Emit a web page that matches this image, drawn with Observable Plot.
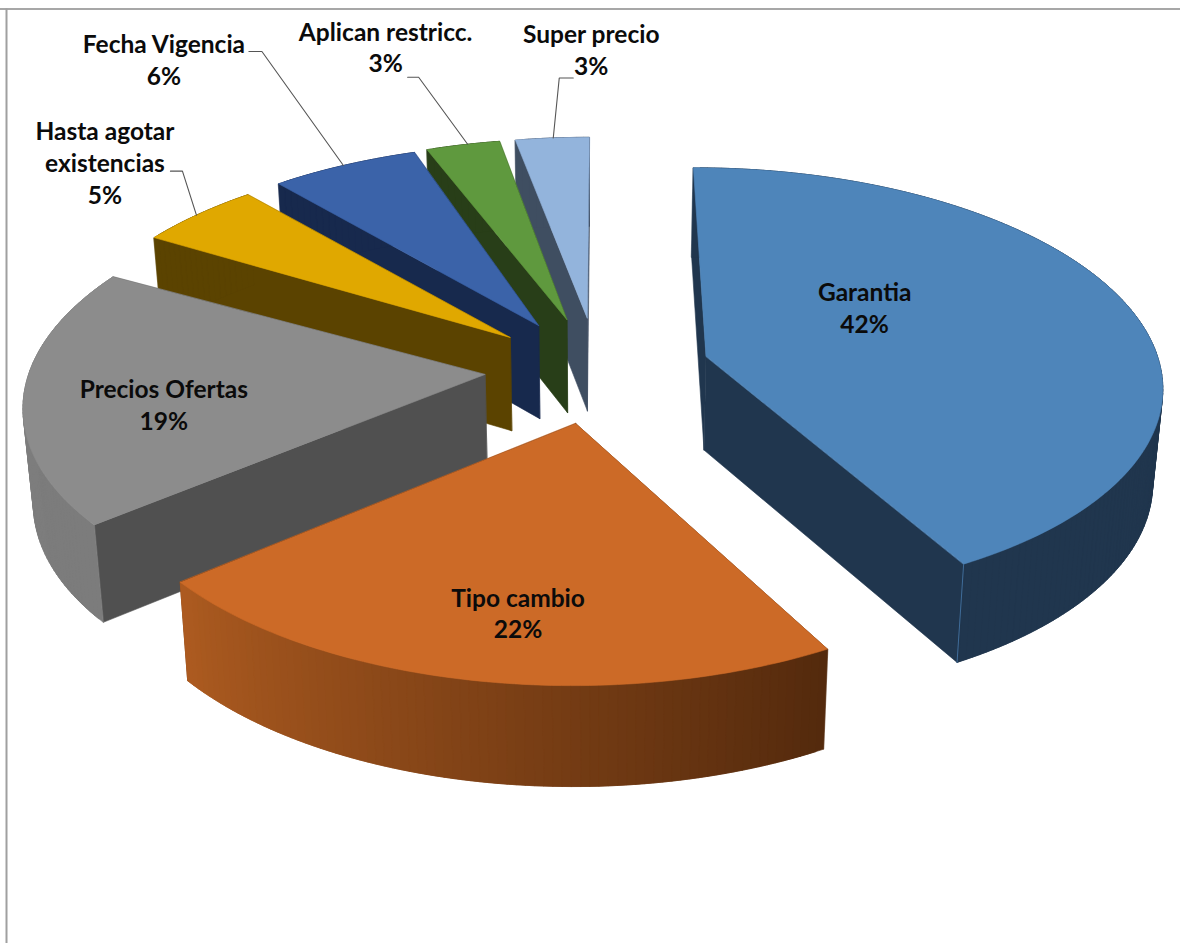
<!DOCTYPE html>
<html lang="es">
<head>
<meta charset="utf-8">
<title>Restricciones en ofertas</title>
<script src="https://cdn.jsdelivr.net/npm/d3@7"></script>
<script src="https://cdn.jsdelivr.net/npm/@observablehq/plot@0.6"></script>
<style>
  html, body { margin: 0; padding: 0; background: #fff; }
  svg { display: block; }
</style>
</head>
<body>
<div id="chart"></div>
<script>
// Shares of each concept, clockwise from twelve o'clock
const names = ["Garantia", "Tipo cambio", "Precios Ofertas", "Hasta agotar\nexistencias", "Fecha Vigencia", "Aplican restricc.", "Super precio"];
const shares = [42, 22, 19, 5, 6, 3, 3];

// Slice colours: top face, cut faces, and the outer wall from its first to its last angle
const topColors = ["#4e85ba", "#cc6a27", "#8c8c8c", "#e0a800", "#3b63a9", "#5f993e", "#93b4dc"];
const sideColors = ["#20364e", "#542b0e", "#505050", "#5b4300", "#17294d", "#283e18", "#3f4e61"];
const wallFrom = ["#20364e", "#542a0d", "#7c7c7c", "#5b4300", "#17294d", "#283e18", "#3f4e61"];
const wallTo = ["#20364e", "#ad5b20", "#7e7e7e", "#5b4300", "#17294d", "#283e18", "#3f4e61"];

// Back to front, so nearer slices cover farther ones
const paintOrder = [6, 5, 4, 3, 2, 0, 1];

// Tilted, perspective view of the pie plane
const center = {x: 597, y: 369};
const view = {scaleX: 455, scaleY: 215, depth: 0.124, explode: 0.248, thickness: 94, lowerShrink: 0.982, lowerStretch: 0.022};
// Small rotation of each exploded slice around its own apex, in degrees
const sliceTurn = [-0.1, 0, -0.2, 2, 2.5, 0.5, 0.15];

function project(u, v) {
  const s = 1 / (1 + view.depth * v);
  return {x: center.x + view.scaleX * u * s, y: center.y - view.scaleY * v * s};
}
const lower = (p) => ({
  x: center.x + (p.x - center.x) * view.lowerShrink,
  y: p.y + view.thickness + (p.y - center.y) * view.lowerStretch
});

const rad = (deg) => (deg * Math.PI) / 180;
let running = 0;
const slices = shares.map((share, i) => {
  const start = (running / 100) * 360;
  running += share;
  const stop = (running / 100) * 360;
  const mid = (start + stop) / 2;
  const ox = view.explode * Math.sin(rad(mid));
  const oy = view.explode * Math.cos(rad(mid));
  const rim = (deg) => project(ox + Math.sin(rad(deg)), oy + Math.cos(rad(deg)));
  return {i, a0: start + sliceTurn[i], a1: stop + sliceTurn[i], mid, rim, apex: project(ox, oy)};
});

// Closed polygons of every face, in drawing order
const faces = [];
function addFace(id, color, points) {
  points.forEach((p) => faces.push({id, color, x: p.x, y: p.y}));
}
for (const idx of paintOrder) {
  const s = slices[idx];
  const step = 1;
  const angles = d3.range(s.a0, s.a1, step).concat(s.a1);
  const sideFace = (edge) => [s.apex, edge, lower(edge), lower(s.apex)];
  addFace(`e${idx}`, sideColors[idx], sideFace(s.rim(s.a1)));
  addFace(`s${idx}`, sideColors[idx], sideFace(s.rim(s.a0)));

  // The outer wall is built from overlapping strips so its shading runs along the rim
  const wallColor = d3.interpolateRgb(wallFrom[idx], wallTo[idx]);
  d3.pairs(angles).forEach(([b0, b1], k) => {
    const p0 = s.rim(b0), p1 = s.rim(Math.min(b1 + step, s.a1));
    const t = k / Math.max(1, angles.length - 2);
    addFace(`w${idx}-${k}`, d3.color(wallColor(t)).formatHex(), [p0, p1, lower(p1), lower(p0)]);
  });
  addFace(`t${idx}`, topColors[idx], [s.apex, ...angles.map(s.rim)]);
}

// Label placement relative to the rim, in degrees along it and pixels away from it
const labelLayout = [
  {turn: 0, dx: -262.5, dy: 1.5},
  {turn: 0, dx: 46, dy: -68},
  {turn: 0, dx: 140, dy: 9},
  {turn: 1.7, dx: -91.5, dy: -53, elbow: [-14, -44], end: [-26, -44]},
  {turn: 2.4, dx: -179.5, dy: -107, elbow: [-81.5, -114], end: [-94.5, -114]},
  {turn: 1.2, dx: -82, dy: -98, elbow: [-49, -67], end: [-60, -67]},
  {turn: 0.3, dx: 38, dy: -89, elbow: [6, -60], end: [20, -60]}
];

const labels = slices.map((s, i) => {
  const anchor = s.rim(s.mid + labelLayout[i].turn);
  return {x: anchor.x + labelLayout[i].dx, y: anchor.y + labelLayout[i].dy, text: `${names[i]}\n${shares[i]}%`};
});

const leaders = slices.flatMap((s, i) => {
  const l = labelLayout[i];
  if (!l.elbow) return [];
  const a = s.rim(s.mid + l.turn);
  return [
    {id: i, x: a.x, y: a.y},
    {id: i, x: a.x + l.elbow[0], y: a.y + l.elbow[1]},
    {id: i, x: a.x + l.end[0], y: a.y + l.end[1]}
  ];
});

// Lighter crease where the cut face of the largest slice meets its wall
const creaseTop = slices[0].rim(slices[0].a1);
const crease = [creaseTop, lower(creaseTop)];

const chart = Plot.plot({
  width: 1180,
  height: 943,
  margin: 0,
  x: {domain: [0, 1180], range: [0, 1180], axis: null},
  y: {domain: [0, 943], range: [0, 943], axis: null},
  color: {type: "identity"},
  style: {background: "#fff", fontFamily: "Lato, 'Open Sans', sans-serif"},
  marks: [
    Plot.ruleY([8.5], {x1: 0, x2: 1180, stroke: "#8a8a8a", strokeWidth: 1.5}),
    Plot.ruleX([6], {y1: 8.5, y2: 943, stroke: "#a0a0a0", strokeWidth: 2}),
    Plot.line(faces, {
      x: "x", y: "y", z: "id",
      fill: "color", stroke: "color",
      strokeWidth: 0.6,
      curve: "linear-closed"
    }),
    Plot.line(crease, {x: "x", y: "y", stroke: "#3f6c99", strokeWidth: 1}),
    Plot.line(leaders, {x: "x", y: "y", z: "id", stroke: "#555", strokeWidth: 1.1}),
    Plot.text(labels, {
      x: "x", y: "y", text: "text",
      fontSize: 24.5,
      fontWeight: 700,
      lineHeight: 1.3,
      fill: "#0b0b0b",
      textAnchor: "middle",
      lineAnchor: "middle"
    })
  ]
});
document.getElementById("chart").append(chart);
</script>
</body>
</html>
